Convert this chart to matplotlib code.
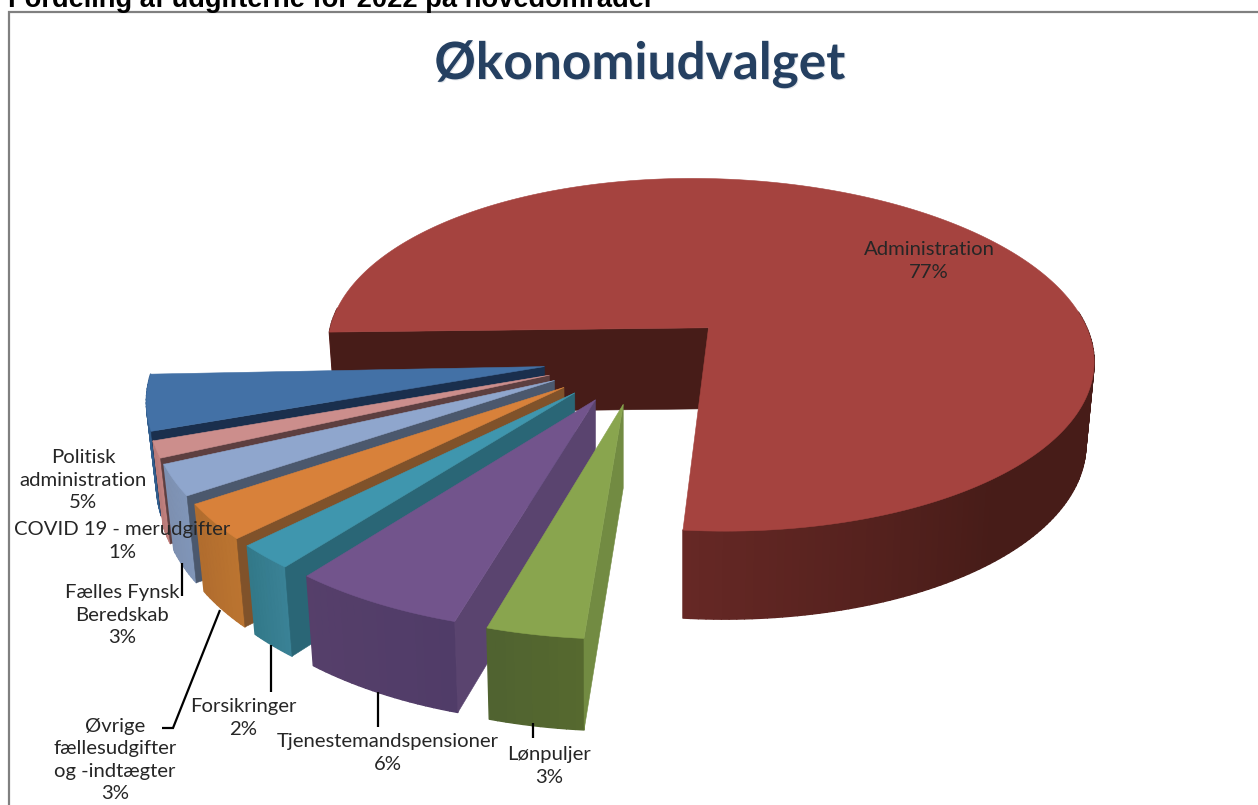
import numpy as np
import matplotlib
matplotlib.use("Agg")
import matplotlib.pyplot as plt
from matplotlib.collections import PolyCollection
from matplotlib.colors import to_rgb
from matplotlib.patches import Polygon
import matplotlib.patheffects as pe

# Data -----------------------------------------------------------------
categories = ["Administration", "Lønpuljer", "Tjenestemandspensioner", "Forsikringer",
              "Øvrige fællesudgifter og -indtægter", "Fælles Fynsk Beredskab",
              "COVID 19 - merudgifter", "Politisk administration"]
values = [76.9, 3.3, 6.0, 2.05, 3.0, 2.6, 1.4, 4.75]
labels = ["Administration\n77%", "Lønpuljer\n3%", "Tjenestemandspensioner\n6%", "Forsikringer\n2%",
          "Øvrige\nfællesudgifter\nog -indtægter\n3%", "Fælles Fynsk\nBeredskab\n3%",
          "COVID 19 - merudgifter\n1%", "Politisk\nadministration\n5%"]
label_xy = [(929, 261), (549, 766), (388, 753), (243, 718), (115, 760), (122, 615), (122, 541), (83, 480)]
top_colors = ["#A5433F", "#89A54E", "#72548C", "#3F96AE", "#D8813A", "#8FA6CD", "#CC8E8C", "#4371A6"]
face_colors = ["#471C18", "#728B42", "#5A446F", "#2A6676", "#80522A", "#4B586D", "#5D3F40", "#1A2F4D"]
rim_a = ["#471C18", "#56692F", "#503C68", "#3A8296", "#BB7430", "#8095B8", "#C58482", "#33608F"]
rim_b = ["#662825", "#4F6230", "#563F6A", "#327888", "#B06C2E", "#7D90B0", "#B87A78", "#2F5A8A"]
leaders = [[(181.5, 563), (181.5, 596)],
           [(220, 610), (173, 728), (162, 728)],
           [(271, 645), (271, 692)],
           [(378, 692), (378, 727)],
           [(533, 723), (533, 738)]]
title = "Økonomiudvalget"
header = "Fordeling af udgifterne for 2022 på hovedområder"

# Projection of the pie plane ------------------------------------------
START = 185.4          # clockwise from 12 o'clock, where Administration ends
OTHERS_ROTATION = -0.9
EXPLODE = 0.25
CENTER = (-0.175, 0.175)
K = -0.153
SHEAR = 16.0
X0, Y0, A, B, H = 705.5, 327, 378, 172, 81


def project(u, v):
    w = 1 + K * v
    return X0 + A * u / w + SHEAR * v, Y0 + B * v / w


def drop(x, y, v):
    w = 1 + K * v
    dy = H / np.sqrt(w)
    dx = np.where(x < 590, 0.023 * (590 - x), np.where(x > 683, -0.02 * (x - 683), 0.0))
    return x + dx, y + dy


fig = plt.figure(figsize=(12.58, 8.05), dpi=100)
ax = fig.add_axes([0, 0, 1, 1])
ax.set_xlim(0, 1258)
ax.set_ylim(805, 0)
ax.axis("off")

# Frame
ax.add_patch(plt.Rectangle((8.5, 12.5), 1300, 900, fc="white", ec="#808080", lw=1.6, zorder=1))

# Slices: Administration runs clockwise to START, others follow it
angles = np.array(values) * 3.6
slices = [(START - angles[0], START)]
phi = START + OTHERS_ROTATION
for a in angles[1:]:
    slices.append((phi, phi + a))
    phi += a

# paint back to front: Administration, then from Politisk forward to Lønpuljer
order = [0] + list(range(len(values) - 1, 0, -1))
z = 5
for i in order:
    p0, p1 = slices[i]
    mid = np.radians((p0 + p1) / 2)
    cu = CENTER[0] + EXPLODE * np.sin(mid)
    cv = CENTER[1] - EXPLODE * np.cos(mid)
    ph = np.radians(np.linspace(p0, p1, max(12, int(p1 - p0))))
    au = cu + np.sin(ph)
    av = cv - np.cos(ph)
    ax_, ay_ = project(au, av)
    bx_, by_ = drop(ax_, ay_, av)
    ox, oy = project(cu, cv)
    obx, oby = drop(np.array(ox), np.array(oy), cv)
    sx, sy = ax_[0], ay_[0]
    sbx, sby = bx_[0], by_[0]

    # rim as thin shaded quads, only the part turned towards the viewer
    ca, cb = np.array(to_rgb(rim_a[i])), np.array(to_rgb(rim_b[i]))
    quads, cols = [], []
    for j in range(len(ax_) - 1):
        if -np.cos(ph[j]) < -0.1:
            continue
        quads.append([(ax_[j], ay_[j]), (ax_[j + 1], ay_[j + 1]), (bx_[j + 1], by_[j + 1]), (bx_[j], by_[j])])
        if i == 0:
            t = np.clip((np.degrees(ph[j]) % 360 - 140) / 45, 0, 1)
        else:
            t = j / (len(ax_) - 1)
        cols.append(tuple(ca + (cb - ca) * t))
    ax.add_collection(PolyCollection(quads, facecolors=cols, edgecolors=cols, linewidths=1.0, zorder=z))
    z += 1
    ax.add_patch(Polygon([(ox, oy), (sx, sy), (sbx, sby), (float(obx), float(oby))],
                         closed=True, fc=face_colors[i], ec=face_colors[i], lw=0.4, zorder=z))
    z += 1
    ax.add_patch(Polygon(np.r_[[(ox, oy)], np.c_[ax_, ay_]], closed=True, fc=top_colors[i],
                         ec=top_colors[i], lw=0.4, zorder=z))
    z += 1

# Leaders
for pts in leaders:
    xs, ys = zip(*pts)
    ax.plot(xs, ys, color="black", lw=1.6, zorder=80, solid_capstyle="butt", solid_joinstyle="miter")

# Labels
for text, (x, y) in zip(labels, label_xy):
    ax.text(x, y, text, ha="center", va="center", fontsize=14.6, family="Lato", color="#262626",
            linespacing=1.36, zorder=90)

ax.text(640, 64, title, ha="center", va="center", fontsize=37, fontweight="bold", family="Lato",
        color="#254061", zorder=90,
        path_effects=[pe.withSimplePatchShadow(offset=(0.7, -0.7), shadow_rgbFace="#9AA5B5", alpha=0.3)])
ax.text(8, 7, header, ha="left", va="baseline", fontsize=19.6, fontweight="bold",
        family="Liberation Sans", color="black", zorder=90)

fig.savefig("out.png", dpi=100)
